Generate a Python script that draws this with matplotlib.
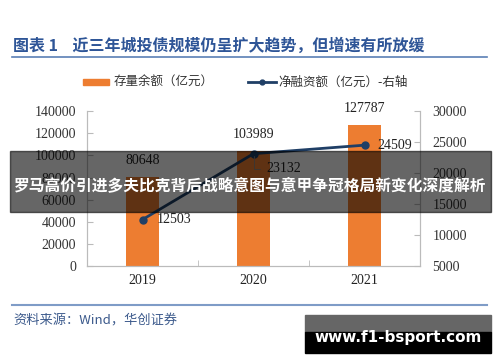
import matplotlib
matplotlib.use("Agg")
import matplotlib.pyplot as plt
from matplotlib.patches import Rectangle
from matplotlib.lines import Line2D

plt.rcParams["font.family"] = ["Noto Sans CJK SC", "DejaVu Sans"]

years = ["2019", "2020", "2021"]
stock = [80648, 103989, 127787]
net_financing = [12503, 23132, 24509]
left_ticks = [0, 20000, 40000, 60000, 80000, 100000, 120000, 140000]
right_ticks = [5000, 10000, 15000, 20000, 25000, 30000]

ORANGE = "#ED7D31"
NAVY = "#1F3F66"
TITLE_BLUE = "#2E5597"
SERIF = "Liberation Serif"

fig = plt.figure(figsize=(5, 3.62), dpi=100)
ax = fig.add_axes([0.174, 0.265, 0.666, 0.428])
ax2 = ax.twinx()

x = list(range(len(years)))
ax.bar(x, stock, width=0.3, color=ORANGE, zorder=2)
ax.set_xlim(-0.5, 2.5)
ax.set_ylim(0, 140000)
ax.set_yticks(left_ticks)
ax.set_yticklabels([str(v) for v in left_ticks], family=SERIF, fontsize=10, color="#333333")
ax.set_xticks(x)
ax.set_xticklabels(years, family=SERIF, fontsize=10, color="#222222")
ax.set_xticks([0.5, 1.5], minor=True)
ax.tick_params(axis="x", which="major", length=0, pad=6)
ax.tick_params(axis="x", which="minor", length=4, direction="in", color="#BBBBBB")
ax.tick_params(axis="y", length=4, direction="in", color="#BBBBBB", pad=8)

ax2.plot(x, net_financing, color=NAVY, lw=2, marker="o", ms=5, zorder=3)
ax2.set_ylim(5000, 30000)
ax2.set_yticks(right_ticks)
ax2.set_yticklabels([str(v) for v in right_ticks], family=SERIF, fontsize=10, color="#333333")
ax2.tick_params(axis="y", length=4, direction="in", color="#BBBBBB", pad=9)

for a in (ax, ax2):
    a.spines["top"].set_visible(False)
    for s in ("left", "right", "bottom"):
        a.spines[s].set_color("#BBBBBB")

for xi, v in zip(x, stock):
    ax.annotate(str(v), (xi, v), xytext=(0, 7), textcoords="offset points",
                ha="center", va="bottom", family=SERIF, fontsize=10, color="#222222")

ax2.annotate(str(net_financing[0]), (x[0], net_financing[0]), xytext=(10, 0),
             textcoords="offset points", ha="left", va="center",
             family=SERIF, fontsize=10, color="#222222")
ax2.annotate(str(net_financing[1]), (x[1], net_financing[1]), xytext=(9, -11),
             textcoords="offset points", ha="left", va="center",
             family=SERIF, fontsize=10, color="#222222",
             arrowprops=dict(arrowstyle="-", color="#888888", lw=0.6,
                             connectionstyle="angle,angleA=0,angleB=90"))
ax2.annotate(str(net_financing[2]), (x[2], net_financing[2]), xytext=(9, 0),
             textcoords="offset points", ha="left", va="center",
             family=SERIF, fontsize=10, color="#222222")

# title and rules
fig.text(0.026, 0.875, "图表 1    近三年城投债规模仍呈扩大趋势，但增速有所放缓",
         fontsize=11.5, fontweight="bold", color=TITLE_BLUE, va="center")
fig.add_artist(Line2D([0.024, 0.974], [0.843, 0.843], color="#5A7FB5", lw=1.2))
fig.add_artist(Line2D([0.024, 0.974], [0.157, 0.157], color="#7F9CC7", lw=1.5))
fig.text(0.026, 0.113, "资料来源：Wind，华创证券", fontsize=9.5, style="italic",
         color="#3C5A8C", va="center")

# legend
fig.add_artist(Rectangle((0.166, 0.764), 0.052, 0.018, color=ORANGE, transform=fig.transFigure))
fig.text(0.228, 0.773, "存量余额（亿元）", fontsize=9, color="#333333", va="center")
fig.add_artist(Line2D([0.496, 0.552], [0.773, 0.773], color=NAVY, lw=2))
fig.add_artist(Line2D([0.524], [0.773], color=NAVY, marker="o", ms=3.5))
fig.text(0.556, 0.773, "净融资额（亿元）-右轴", fontsize=9, color="#333333", va="center")

# overlay banner
fig.add_artist(Rectangle((0.02, 0.415), 0.962, 0.168, color="black", alpha=0.6,
                         transform=fig.transFigure, zorder=10))
fig.text(0.501, 0.488, "罗马高价引进多夫比克背后战略意图与意甲争冠格局新变化深度解析",
         fontsize=11.3, fontweight="bold", color="white", ha="center", va="center", zorder=11)

# bottom-right badge
fig.add_artist(Rectangle((0.61, 0.083), 0.372, 0.047, color="#666666",
                         transform=fig.transFigure, zorder=10))
fig.add_artist(Rectangle((0.61, 0.025), 0.372, 0.058, color="#000000",
                         transform=fig.transFigure, zorder=10))
fig.text(0.796, 0.069, "www.f1-bsport.com", fontsize=11, fontweight="bold",
         color="white", ha="center", va="center", zorder=11, family="DejaVu Sans")

fig.savefig("out.png", dpi=100, facecolor="white")
